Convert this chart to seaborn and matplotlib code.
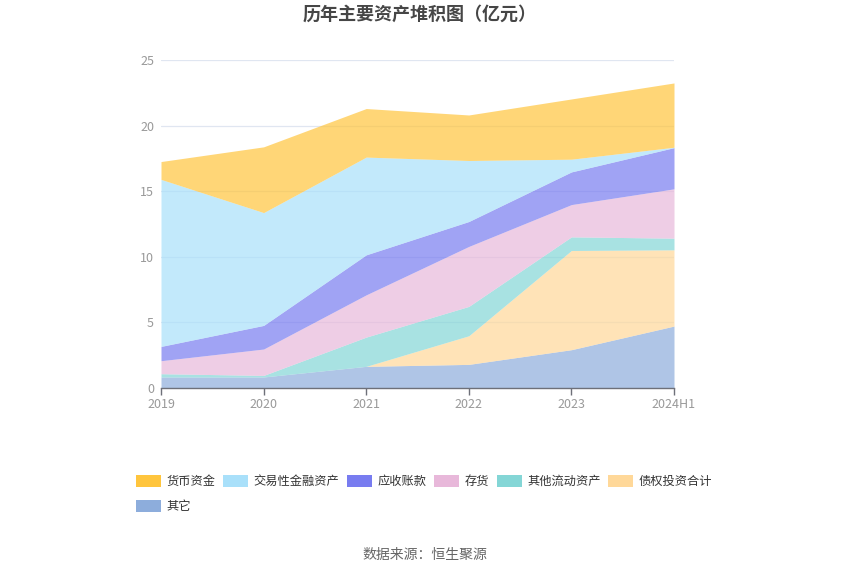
import numpy as np
import pandas as pd
import matplotlib
matplotlib.use("Agg")
import matplotlib.pyplot as plt
from matplotlib.patches import Patch
import seaborn as sns

years = ["2019", "2020", "2021", "2022", "2023", "2024H1"]
series_names = ["货币资金", "交易性金融资产", "应收账款", "存货", "其他流动资产", "债权投资合计", "其它"]
huobi = [1.36, 5.01, 3.70, 3.47, 4.59, 4.90]
jiaoyi = [12.73, 8.60, 7.45, 4.65, 0.97, 0.03]
yingshou = [1.09, 1.80, 3.05, 1.90, 2.49, 3.14]
cunhuo = [0.99, 2.01, 3.22, 4.57, 2.46, 3.76]
qita_liudong = [0.25, 0.12, 2.23, 2.24, 1.04, 0.89]
zhaiquan = [0.0, 0.0, 0.0, 2.18, 7.56, 5.81]
qita = [0.84, 0.84, 1.65, 1.80, 2.92, 4.72]
colors = ["#FFC53D", "#A9E0FA", "#787CF0", "#E8B8DA", "#84D6D6", "#FFD899", "#8DADDC"]
y_ticks = [0, 5, 10, 15, 20, 25]

df = pd.DataFrame({
    "货币资金": huobi, "交易性金融资产": jiaoyi, "应收账款": yingshou, "存货": cunhuo,
    "其他流动资产": qita_liudong, "债权投资合计": zhaiquan, "其它": qita,
}, index=years)

sns.set_theme(style="white")
plt.rcParams['font.family'] = ['Noto Sans CJK SC', 'DejaVu Sans']

fig = plt.figure(figsize=(8.5, 5.75), dpi=100)
ax = fig.add_axes([161/850, 1-388/575, (674-161)/850, (388-60)/575])

x = np.arange(len(years))
order = series_names[::-1]  # bottom to top
ax.stackplot(x, [df[n].values for n in order],
             colors=[colors[series_names.index(n)] for n in order],
             alpha=0.7, linewidth=0, zorder=2)

ax.set_xlim(0, len(years)-1)
ax.set_ylim(0, 25)
ax.set_yticks(y_ticks)
ax.set_xticks(x)
ax.set_xticklabels(years)
ax.grid(axis='y', color='#E0E6F1', linewidth=0.9, zorder=1)
ax.set_axisbelow(True)
for s in ['top', 'right', 'left']:
    ax.spines[s].set_visible(False)
ax.spines['bottom'].set_color('#6E7079')
ax.spines['bottom'].set_linewidth(1)
ax.spines['bottom'].set_zorder(3)
ax.tick_params(axis='x', colors='#6E7079', length=5, width=1, direction='out', bottom=True, pad=2)
ax.tick_params(axis='y', length=0, pad=5)
for lab in ax.get_xticklabels() + ax.get_yticklabels():
    lab.set_color('#999999')
    lab.set_fontsize(9)

fig.text(420/850, 1-14/575, "历年主要资产堆积图（亿元）", ha='center', va='center',
         fontsize=13, fontweight='bold', color='#464646')
fig.text(425/850, 1-555/575, "数据来源：恒生聚源", ha='center', va='center',
         fontsize=10, color='#666666')

handles = [Patch(facecolor=c, edgecolor='none') for c in colors]
leg_kw = dict(frameon=False, fontsize=8.8, handlelength=2.05, handleheight=1.1,
              handletextpad=0.45, columnspacing=0.62, borderpad=0, borderaxespad=0,
              loc='upper left', labelcolor='#333333')
leg1 = fig.legend(handles[:6], series_names[:6], ncol=6,
                  bbox_to_anchor=(136/850, 1-475/575), **leg_kw)
leg2 = fig.legend(handles[6:], series_names[6:], ncol=1,
                  bbox_to_anchor=(136/850, 1-500/575), **leg_kw)

fig.savefig("out.png", dpi=100, facecolor='white')
